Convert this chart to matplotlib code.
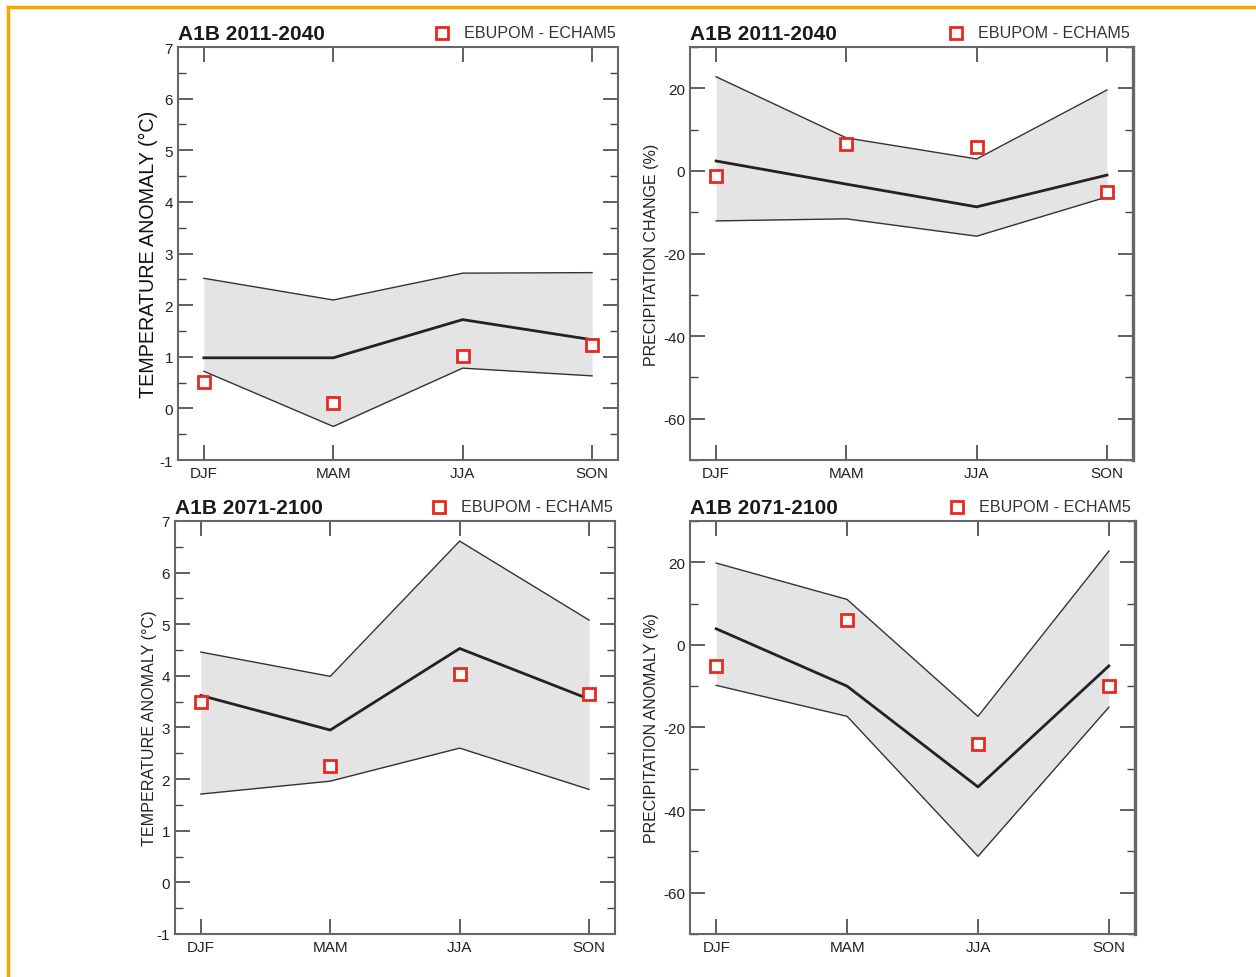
import matplotlib
matplotlib.use("Agg")
import matplotlib.pyplot as plt
from matplotlib.lines import Line2D
from matplotlib.ticker import MultipleLocator

plt.rcParams['font.family'] = ['Liberation Sans', 'DejaVu Sans']
plt.rcParams['axes.unicode_minus'] = False

seasons = ['DJF', 'MAM', 'JJA', 'SON']
x = list(range(len(seasons)))

# temperature 2011-2040
t1_upper = [2.52, 2.10, 2.62, 2.63]
t1_mean = [0.98, 0.98, 1.72, 1.33]
t1_lower = [0.72, -0.35, 0.78, 0.63]
t1_rcm = [0.52, 0.10, 1.02, 1.23]

# precipitation 2011-2040
p1_upper = [22.8, 8.0, 2.9, 19.6]
p1_mean = [2.4, -3.2, -8.7, -1.0]
p1_lower = [-12.1, -11.6, -15.8, -6.3]
p1_rcm = [-1.2, 6.5, 5.8, -5.1]

# temperature 2071-2100
t2_upper = [4.46, 3.99, 6.61, 5.08]
t2_mean = [3.62, 2.95, 4.53, 3.55]
t2_lower = [1.71, 1.96, 2.60, 1.80]
t2_rcm = [3.49, 2.25, 4.03, 3.64]

# precipitation 2071-2100
p2_upper = [19.8, 11.0, -17.3, 22.7]
p2_mean = [3.9, -10.0, -34.4, -5.1]
p2_lower = [-9.8, -17.3, -51.2, -15.1]
p2_rcm = [-5.1, 5.9, -24.1, -10.0]

fig = plt.figure(figsize=(12.56, 9.78), dpi=100)

# orange frame (left and top edges)
orange = '#f5a800'
fig.add_artist(Line2D([8 / 1256, 8 / 1256], [0, 1 - 8 / 978], transform=fig.transFigure, color=orange, lw=2.5))
fig.add_artist(Line2D([8 / 1256, 1], [1 - 8 / 978, 1 - 8 / 978], transform=fig.transFigure, color=orange, lw=2.5))


def panel(rect, upper, mean, lower, rcm, title, ylabel, ylim, major, minor, label_kw, dark_right=False):
    ax = fig.add_axes(rect)
    ax.fill_between(x, lower, upper, color='#e4e4e4', lw=0)
    ax.plot(x, upper, color='#333333', lw=1.0)
    ax.plot(x, lower, color='#333333', lw=1.0)
    ax.plot(x, mean, color='#222222', lw=2.0)
    ax.plot(x, rcm, ls='none', marker='s', ms=8, mfc='white', mec='#e8281e', mew=2.0)
    ax.set_xlim(-0.2, 3.2)
    ax.set_ylim(*ylim)
    ax.set_xticks(x)
    ax.set_xticklabels(seasons)
    ax.yaxis.set_major_locator(MultipleLocator(major))
    ax.yaxis.set_minor_locator(MultipleLocator(minor))
    ax.tick_params(which='both', direction='in', top=True, right=True, colors='#444444',
                   labelcolor='#222222', labelsize=11)
    ax.tick_params(which='major', length=11, width=1.2)
    ax.tick_params(which='minor', length=6, width=1.0)
    ax.tick_params(axis='x', pad=4)
    for s in ax.spines.values():
        s.set_color('#666666')
        s.set_linewidth(1.5)
    if dark_right:
        ax.spines['right'].set_color('#666666')
        ax.spines['right'].set_linewidth(2.4)
    ax.text(0.0, 1.01, title, transform=ax.transAxes, ha='left', va='bottom',
            fontsize=15, fontweight='bold', color='#1a1a1a')
    ax.plot([0.6], [1.035], transform=ax.transAxes, marker='s', ms=8, mfc='white',
            mec='#e8281e', mew=2.0, clip_on=False)
    ax.text(0.65, 1.035, 'EBUPOM - ECHAM5', transform=ax.transAxes, ha='left', va='center',
            fontsize=11.6, color='#333333')
    ax.set_ylabel(ylabel, **label_kw)
    return ax


panel([0.1417, 0.5286, 0.3503, 0.4223], t1_upper, t1_mean, t1_lower, t1_rcm,
      'A1B 2011-2040', 'TEMPERATURE ANOMALY (°C)', (-1, 7), 1, 0.5,
      dict(fontsize=14.2, color='#111111', labelpad=1))
panel([0.5494, 0.5286, 0.3527, 0.4223], p1_upper, p1_mean, p1_lower, p1_rcm,
      'A1B 2011-2040', 'PRECIPITATION CHANGE (%)', (-70, 30), 20, 10,
      dict(fontsize=11.5, color='#222222', labelpad=3), dark_right=True)
panel([0.1393, 0.0440, 0.3503, 0.4223], t2_upper, t2_mean, t2_lower, t2_rcm,
      'A1B 2071-2100', 'TEMPERATURE ANOMALY (°C)', (-1, 7), 1, 0.5,
      dict(fontsize=11.6, color='#222222', labelpad=0))
panel([0.5494, 0.0440, 0.3543, 0.4223], p2_upper, p2_mean, p2_lower, p2_rcm,
      'A1B 2071-2100', 'PRECIPITATION ANOMALY (%)', (-70, 30), 20, 10,
      dict(fontsize=11.5, color='#222222', labelpad=3), dark_right=True)

fig.savefig('out.png', dpi=100)
